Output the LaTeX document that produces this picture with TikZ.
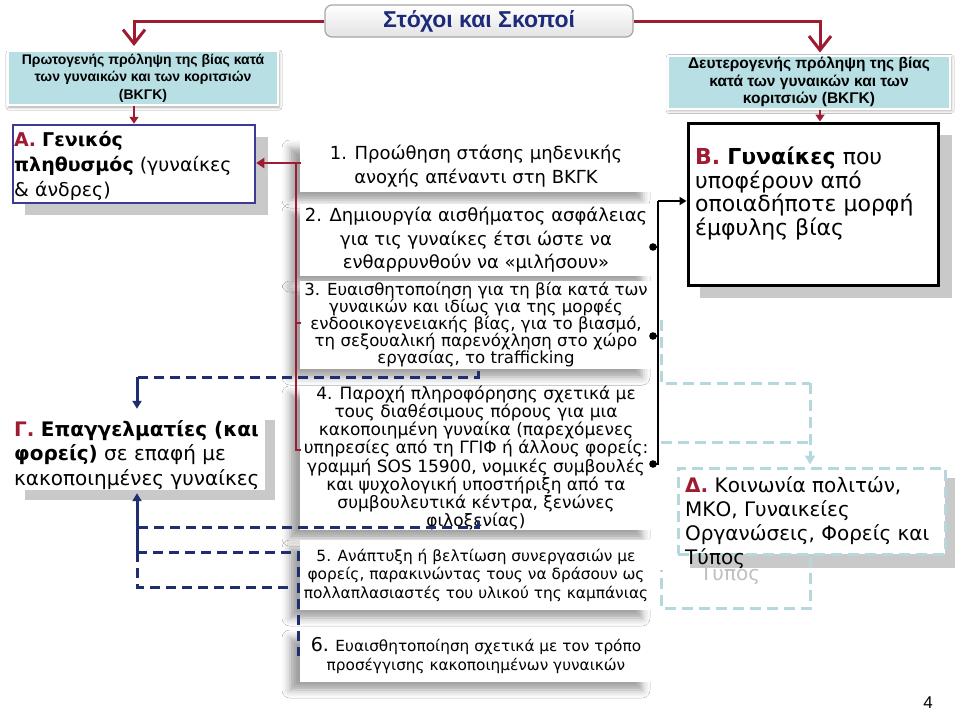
\documentclass[tikz,border=0pt]{standalone}
\usepackage{fontspec}
\setmainfont{DejaVu Sans}
\newfontfamily\arialf{Liberation Sans}
\usetikzlibrary{arrows.meta,shadows.blur,calc}
\definecolor{dred}{HTML}{9E1B32}
\definecolor{navy}{HTML}{1F2E6E}
\definecolor{tealfill}{HTML}{B8DFE3}
\definecolor{tealdash}{HTML}{B5D8DC}
\definecolor{bborder}{HTML}{3B3B96}
\definecolor{shgray}{HTML}{C9C9C9}
\definecolor{titleblue}{HTML}{1E2A7A}
\tikzset{
  itembox/.style={fill=white, inner sep=0pt, minimum width=352pt, align=center,
    blur shadow={shadow xshift=-10pt, shadow yshift=-8pt, shadow blur radius=8pt, shadow opacity=38}},
  tealbox/.style={fill=tealfill, draw=white, line width=2pt, inner sep=0pt, align=center,
    font=\arialf\bfseries,
    blur shadow={shadow xshift=1pt, shadow yshift=-2pt, shadow blur radius=3pt, shadow opacity=35}},
  redconn/.style={draw=dred, line width=2.5pt},
  redbig/.style={draw=dred, line width=3pt},
  blkconn/.style={draw=black, line width=2pt},
  navydash/.style={draw=navy, line width=3pt, dash pattern=on 10pt off 6pt},
  navysolid/.style={draw=navy, line width=3pt},
  tealline/.style={draw=tealdash, line width=3pt, dash pattern=on 11pt off 6pt},
  bigtxt/.style={inner sep=0pt, align=left, anchor=north west},
}
\begin{document}
\begin{tikzpicture}[x=1pt,y=-1pt]
\useasboundingbox (0,0) rectangle (960,712);
\fill[white] (0,0) rectangle (960,712);

% ---- title
\node[rounded corners=7pt, draw=gray!70, line width=1.2pt, top color=white, bottom color=gray!22,
  minimum width=308pt, minimum height=32pt, inner sep=0pt,
  font=\arialf\bfseries\fontsize{23}{26}\selectfont, text=titleblue] (title) at (479,21) {Στόχοι και Σκοποί};

% ---- teal boxes
\node[tealbox, minimum width=270pt, minimum height=54pt, font=\arialf\bfseries\fontsize{14}{17.5}\selectfont] (p1) at (143,78)
  {Πρωτογενής πρόληψη της βίας κατά\\των γυναικών και των κοριτσιών\\(ΒΚΓΚ)};
\node[tealbox, minimum width=282pt, minimum height=53pt, font=\arialf\bfseries\fontsize{15.5}{17.5}\selectfont] (p2) at (809,82)
  {Δευτερογενής πρόληψη της βίας\\κατά των γυναικών και των\\κοριτσιών (ΒΚΓΚ)};

% ---- light teal connector points
\coordinate (t1) at (661,320);
\coordinate (t2) at (661,383);
\coordinate (t3) at (810,383);
\coordinate (t4) at (661,442);
\coordinate (t5) at (810,442);
\coordinate (t6) at (661,570);
\coordinate (t7) at (661,608);
\coordinate (t8) at (810,608);

% ---- A box
\fill[shgray] (25,137) rectangle (268,215);
\node[draw=bborder, line width=2.5pt, fill=white, minimum width=242pt, minimum height=78pt, inner sep=0pt] (A) at (134,164) {};
\node[bigtxt, font=\fontsize{19}{25}\selectfont] (Atxt) at (14,131)
  {{\color{dred}\bfseries Α.} \textbf{Γενικός}\\\textbf{πληθυσμός} (γυναίκες\\\& άνδρες)};

% ---- B box
\fill[shgray] (700,135) rectangle (952,298);
\node[draw=black, line width=3pt, fill=white, minimum width=250pt, minimum height=162pt, inner sep=0pt] (B) at (813,204) {};
\node[bigtxt, font=\fontsize{22}{23.5}\selectfont] (Btxt) at (695,147)
  {{\color{dred}\bfseries Β.} \textbf{Γυναίκες} που\\υποφέρουν από\\οποιαδήποτε μορφή\\έμφυλης βίας};

% ---- Gamma box
\fill[shgray] (25,420) rectangle (275,500);
\node[fill=white, minimum width=255pt, minimum height=80pt, inner sep=0pt] (G) at (137.5,450) {};
\node[bigtxt, font=\fontsize{20}{24.5}\selectfont] (Gtxt) at (14,420)
  {{\color{dred}\bfseries Γ.} \textbf{Επαγγελματίες (και}\\\textbf{φορείς)} σε επαφή με\\κακοποιημένες γυναίκες};

% ---- Delta box
\fill[shgray] (690,478) rectangle (955,568);
\node[bigtxt, font=\fontsize{20}{24}\selectfont, text=gray!50] (Dghost) at (700,564) {Τύπος};
\node[draw=tealdash, line width=3pt, dash pattern=on 11pt off 6pt, fill=white, minimum width=267pt, minimum height=86pt, inner sep=0pt] (D) at (811.5,511) {};
\node[bigtxt, font=\fontsize{20}{24}\selectfont] (Dtxt) at (685,476)
  {{\color{dred}\bfseries Δ.} Κοινωνία πολιτών,\\ΜΚΟ, Γυναικείες\\Οργανώσεις, Φορείς και\\Τύπος};

% ---- middle column items
\node[itembox, minimum height=52pt, font=\fontsize{18}{23.5}\selectfont] (i1) at (476,166)
  {1. Προώθηση στάσης μηδενικής\\ανοχής απέναντι στη ΒΚΓΚ};
\node[itembox, minimum height=72pt, font=\fontsize{18}{23.5}\selectfont] (i2) at (476,240)
  {2. Δημιουργία αισθήματος ασφάλειας\\για τις γυναίκες έτσι ώστε να\\ενθαρρυνθούν να «μιλήσουν»};
\node[itembox, minimum height=88pt, font=\fontsize{16.6}{17}\selectfont] (i3) at (476,325)
  {3. Ευαισθητοποίηση για τη βία κατά των\\γυναικών και ιδίως για της μορφές\\ενδοοικογενειακής βίας, για το βιασμό,\\τη σεξουαλική παρενόχληση στο χώρο\\εργασίας, το trafficking};
\node[itembox, minimum height=144pt, font=\fontsize{17}{16.8}\selectfont] (i4) at (476,458)
  {4. Παροχή πληροφόρησης σχετικά με\\τους διαθέσιμους πόρους για μια\\κακοποιημένη γυναίκα (παρεχόμενες\\υπηρεσίες από τη ΓΓΙΦ ή άλλους φορείς:\\γραμμή SOS 15900, νομικές συμβουλές\\και ψυχολογική υποστήριξη από τα\\συμβουλευτικά κέντρα, ξενώνες\\φιλοξενίας)};
\node[itembox, minimum height=70pt, font=\fontsize{15.4}{18.5}\selectfont] (i5) at (476,575)
  {5. Ανάπτυξη ή βελτίωση συνεργασιών με\\φορείς, παρακινώντας τους να δράσουν ως\\πολλαπλασιαστές του υλικού της καμπάνιας};
\node[itembox, minimum height=52pt, font=\fontsize{15.3}{19}\selectfont] (i6) at (476,656)
  {{\fontsize{19}{19}\selectfont 6.} Ευαισθητοποίηση σχετικά με τον τρόπο\\προσέγγισης κακοποιημένων γυναικών};

% ---- light teal connectors Delta <-> items
\draw[tealline] (t1) -- (t2) -- (t3);
\draw[tealline, -{Triangle[length=9pt,width=10pt]}] (t3) -- ([yshift=2pt]D.north -| t3);
\draw[tealline] (t4) -- (t5);
\draw[tealline] (D.south -| t8) -- (t8) -- (t7) -- (t6);

% ---- red connectors (title and prevention boxes)
\draw[redbig, -{Straight Barb[length=14pt,width=22pt,line width=3pt]}] (title.west) -| ([yshift=4pt]p1.north -| A.north);
\draw[redbig, -{Straight Barb[length=14pt,width=22pt,line width=3pt]}] (title.east) -| ([yshift=2pt,xshift=7pt]p2.north -| B.north);
\draw[redconn, -{Triangle[length=7pt,width=9pt]}] (p1.south -| A.north) -- (A.north);
\draw[redconn, -{Triangle[length=7pt,width=9pt]}] ([xshift=7pt]p2.south -| B.north) -- ([xshift=7pt]B.north);

% ---- red connector A <-> items 1,3,4
\coordinate (r1) at (301,163);
\coordinate (r3) at (301,323);
\coordinate (r4) at (301,450);
\draw[redconn, -{Triangle[length=8pt,width=10pt]}] (r1) -- (A.east |- r1);
\draw[redconn] (r1) -- ++(-5,0) |- (r4);
\draw[redconn] (r3) -- ++(-5,0);

% ---- black connector B <-> items 2,3,4
\coordinate (bk) at (658,201);
\coordinate (d2) at (653,247);
\coordinate (d3) at (653,336);
\coordinate (d4) at (653,464);
\draw[blkconn, -{Triangle[length=7pt,width=8pt]}] (bk) -- (B.west |- bk);
\draw[blkconn] (bk) |- (d4);
\draw[blkconn] (bk |- d2) -- (d2);
\draw[blkconn] (bk |- d3) -- (d3);
\fill (d2) circle (3.8pt) (d3) circle (3.8pt) (d4) circle (3.8pt);

% ---- navy connectors Gamma <-> items 3,4,5,6
\coordinate (n1a) at (478,371);
\coordinate (n1b) at (137,377);
\coordinate (n2a) at (478,521);
\coordinate (n2b) at (137,527);
\coordinate (n2c) at (137,552);
\coordinate (n3a) at (298,552);
\coordinate (n3b) at (298,656);
\coordinate (n4a) at (137,587);
\coordinate (n4b) at (290,587);
\draw[navydash] (n1a) |- (n1b);
\draw[navysolid, -{Triangle[length=8pt,width=9pt]}] (n1b) -- ([yshift=1pt]G.north -| n1b);
\draw[navydash] (n2a) |- (n2b);
\draw[navysolid, -{Triangle[length=8pt,width=9pt]}] (n2c) -- ([yshift=-3pt]G.south -| n2c);
\draw[navydash] (n2c) -- (n3a) -- (n3b);
\draw[navydash] (n2c) -- (n4a) -- (n4b);

% ---- page number
\node[font=\arialf\fontsize{17}{20}\selectfont] (pg) at (928,703) {4};
\end{tikzpicture}
\end{document}
